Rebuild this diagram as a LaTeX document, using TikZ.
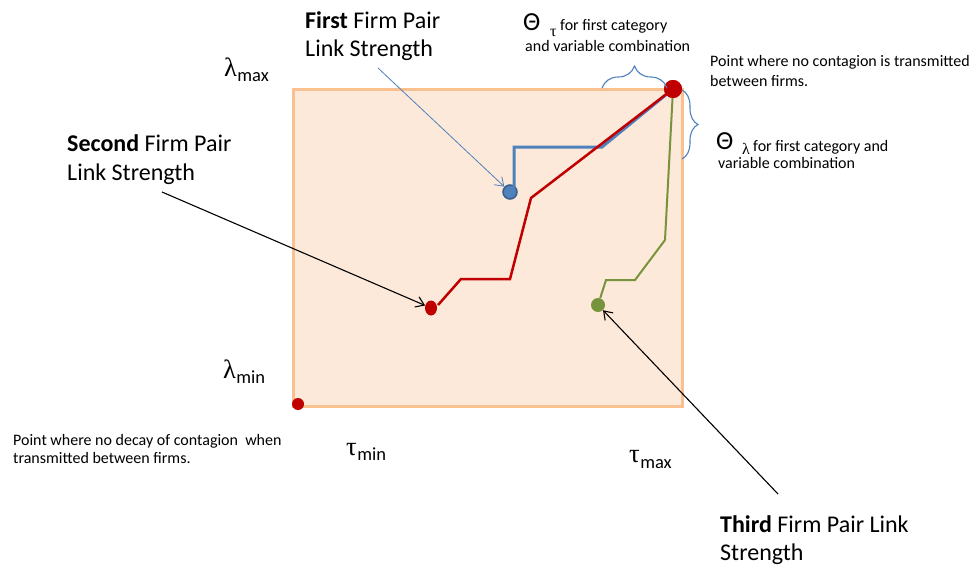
\documentclass[tikz,border=0pt]{standalone}
\usepackage{fontspec}
\setmainfont{Carlito}
\newfontfamily\grk{Liberation Serif}
\usetikzlibrary{decorations.pathreplacing,arrows.meta,shapes.geometric}
\definecolor{peach}{HTML}{FDE9D9}
\definecolor{peachline}{HTML}{FAC090}
\definecolor{redl}{HTML}{C00000}
\definecolor{bluel}{HTML}{4F81BD}
\definecolor{bluedark}{HTML}{385D8A}
\definecolor{greenl}{HTML}{77933C}
\begin{document}
\begin{tikzpicture}[x=1pt,y=-1pt,
  big/.style={font=\fontsize{24}{28}\selectfont, inner sep=0, anchor=base west},
  note/.style={font=\fontsize{16}{19}\selectfont, inner sep=0, anchor=base west},
  grklbl/.style={font=\fontsize{26.5}{27}\grk, inner sep=0, anchor=base west},
  subl/.style={font=\fontsize{18.5}{19}\selectfont, inner sep=0, anchor=base west},
  thetal/.style={font=\fontsize{26}{26}\selectfont, inner sep=0, anchor=base west},
  thetas/.style={font=\fontsize{16}{16}\grk, inner sep=0, anchor=base west},
  dotnode/.style={circle, inner sep=0, minimum size=#1},
  brc/.style={draw=bluel, line width=1.1pt, decorate},
  callout/.style={-{Straight Barb[length=8pt,width=11pt]}, line width=1.1pt},
]
\useasboundingbox (0,0) rectangle (979,567);
\fill[white] (0,0) rectangle (979,567);
% plane
\coordinate (tl) at (293,90);
\coordinate (br) at (682,406);
\draw[draw=peachline, fill=peach, line width=3pt] (tl) rectangle (br);

% dots
\node[dotnode=18, fill=redl] (top) at (673,89) {};
\node[dotnode=12, fill=redl] (origin) at (298,404) {};
\node[ellipse, inner sep=0, minimum width=12, minimum height=15, fill=redl] (rdot) at (431,308) {};
\node[dotnode=14, fill=bluel, draw=bluedark, line width=1.5pt] (bdot) at (510,192) {};
\node[dotnode=14, fill=greenl] (gdot) at (598,305) {};

% paths
\coordinate (b1) at (514,188);
\coordinate (b2) at (514,147);
\coordinate (b3) at (602,147);
\draw[bluel, line width=3pt] (b1) -- (b2) -- (b3) -- (top.center);
\coordinate (r1) at (531,198);
\coordinate (r2) at (510,279);
\coordinate (r3) at (461,279);
\coordinate (r4) at (438,305);
\draw[redl, line width=2.5pt] (top.center) -- (r1) -- (r2) -- (r3) -- (r4);
\coordinate (g1) at (665,240);
\coordinate (g2) at (635,280);
\coordinate (g3) at (606,280);
\draw[greenl, line width=2pt] (top.center) -- (g1) -- (g2) -- (g3) -- (gdot);
\node[dotnode=18, fill=redl] at (top) {};

% braces
\coordinate (bt1) at (602,88);
\coordinate (bt2) at (667,88);
\draw[brc, decoration={brace, amplitude=22pt}] (bt1) -- (bt2);
\coordinate (bv1) at (682,90);
\coordinate (bv2) at (682,159);
\draw[brc, decoration={brace, amplitude=16pt}] (bv1) -- (bv2);

% axis labels
\node[grklbl] (lmax) at (224,77) {λ};
\node[subl] (lmaxs) at (lmax.base east) [yshift=-5pt] {max};
\node[grklbl] (lmin) at (223,378) {λ};
\node[subl] (lmins) at (lmin.base east) [yshift=-5pt] {min};
\node[grklbl] (tmin) at (346,455) {τ};
\node[subl] (tmins) at (tmin.base east) [yshift=-5pt] {min};
\node[grklbl] (tmax) at (629,462) {τ};
\node[subl] (tmaxs) at (tmax.base east) [yshift=-6pt] {max};

% theta labels
\node[thetal] (tht) at (523,31) {Θ};
\node[thetas] (thts) at (550,37) {τ};
\node[note] (thtt1) at (560,31) {for first category};
\node[note] (thtt2) at (525,52) {and variable combination};
\node[thetal] (thl) at (716,149) {Θ};
\node[thetas] (thls) at (742,154) {λ};
\node[note] (thlt1) at (753,151) {for first category and};
\node[note] (thlt2) at (718,168) {variable combination};

% notes
\node[note] (n1a) at (710,67) {Point where no contagion is transmitted};
\node[note] (n1b) at (710,87) {between firms.};
\node[note] (n2a) at (13,445) {Point where no decay of contagion\ \ when};
\node[note] (n2b) at (13,463) {transmitted between firms.};

% firm pair labels
\node[big] (f1a) at (305,29) {\textbf{First} Firm Pair};
\node[big] (f1b) at (305,57) {Link Strength};
\node[big] (f2a) at (67,151) {\textbf{Second} Firm Pair};
\node[big] (f2b) at (67,180) {Link Strength};
\node[big] (f3a) at (720,532) {\textbf{Third} Firm Pair Link};
\node[big] (f3b) at (720,560) {Strength};

% callouts
\coordinate (c1) at (378,68);
\coordinate (c2) at (162,192);
\coordinate (c3) at (778,494);
\draw[callout, bluel, line width=0.8pt] (c1) -- (bdot);
\draw[callout, black] (c2) -- (rdot);
\draw[callout, black] (c3) -- (gdot);
\end{tikzpicture}
\end{document}
